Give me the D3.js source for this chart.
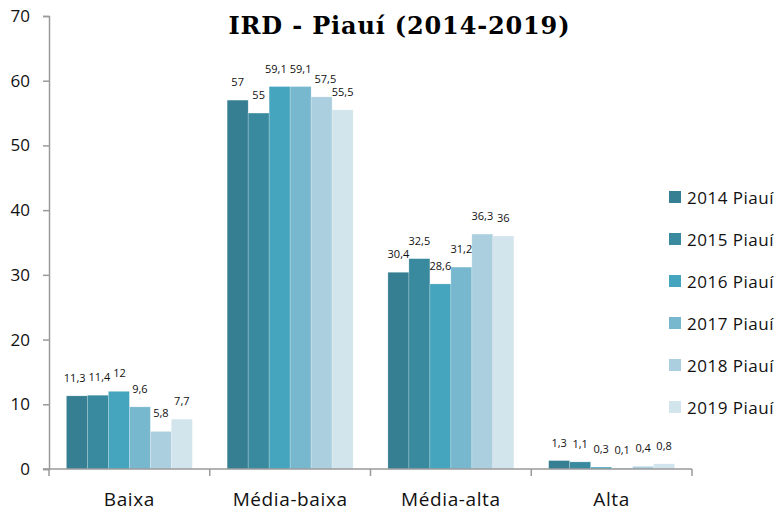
<!DOCTYPE html>
<html>
<head>
<meta charset="utf-8">
<script src="https://cdn.jsdelivr.net/npm/d3@7"></script>
<style>
  html, body { margin: 0; padding: 0; background: #fff; }
  svg { display: block; }
</style>
</head>
<body>
<svg id="chart" width="779" height="512"></svg>
<script>
// Intensity categories and yearly series for Piauí
const categories = ["Baixa", "Média-baixa", "Média-alta", "Alta"];
const years = ["2014 Piauí", "2015 Piauí", "2016 Piauí", "2017 Piauí", "2018 Piauí", "2019 Piauí"];
const values2014 = [11.3, 57, 30.4, 1.3];
const values2015 = [11.4, 55, 32.5, 1.1];
const values2016 = [12, 59.1, 28.6, 0.3];
const values2017 = [9.6, 59.1, 31.2, 0.1];
const values2018 = [5.8, 57.5, 36.3, 0.4];
const values2019 = [7.7, 55.5, 36, 0.8];
const yTicks = [0, 10, 20, 30, 40, 50, 60, 70];
const colors = ["#367e92", "#3a8a9f", "#46a5be", "#78b8cf", "#accfdf", "#d2e4ec"];

const series = [values2014, values2015, values2016, values2017, values2018, values2019];

const svg = d3.select("#chart");
const plotLeft = 49, plotRight = 692, plotTop = 16, plotBottom = 469;

const x0 = d3.scaleBand().domain(categories).range([plotLeft, plotRight]).paddingInner(0).paddingOuter(0);
const x1 = d3.scaleBand().domain(d3.range(years.length)).range([0, x0.bandwidth()]).paddingInner(0).paddingOuter(0.83);
const y = d3.scaleLinear().domain([0, 70]).range([plotBottom, plotTop]);

const fmt = v => String(v).replace(".", ",");
const axisColor = "#9a9a9a";
const font = "'Open Sans', 'Noto Sans', sans-serif";
const rowsFor = ci => series.map((s, si) => ({ si, v: s[ci] }));

// Bars
const groups = svg.append("g").selectAll("g")
  .data(categories)
  .join("g")
  .attr("transform", c => `translate(${x0(c)},0)`);

groups.selectAll("rect")
  .data(c => rowsFor(categories.indexOf(c)))
  .join("rect")
  .attr("x", d => x1(d.si))
  .attr("width", x1.bandwidth())
  .attr("y", d => y(d.v))
  .attr("height", d => y(0) - y(d.v))
  .attr("fill", d => colors[d.si])
  .attr("stroke", "#ffffff")
  .attr("stroke-opacity", 0.35)
  .attr("stroke-width", 0.6);

// Value labels
groups.each(function (c) {
  const labels = d3.select(this).selectAll("text")
    .data(rowsFor(categories.indexOf(c)))
    .join("text")
    .attr("y", d => y(d.v) - 14)
    .attr("text-anchor", "middle")
    .attr("font-family", font)
    .attr("font-size", 11)
    .attr("fill", "#111")
    .text(d => fmt(d.v));

  // Spread apart labels that collide with a neighbour at a similar height
  const items = [];
  labels.each(function (d) {
    items.push({ node: this, cx: x1(d.si) + x1.bandwidth() / 2, w: this.getComputedTextLength(), yy: y(d.v) - 14 });
  });
  for (let iter = 0; iter < 30; iter++) {
    for (let i = 1; i < items.length; i++) {
      const a = items[i - 1], b = items[i];
      if (Math.abs(a.yy - b.yy) > 11) continue;
      const need = (a.w + b.w) / 2 + 3 - (b.cx - a.cx);
      if (need > 0) { a.cx -= need / 2; b.cx += need / 2; }
    }
  }
  items.forEach(it => d3.select(it.node).attr("x", it.cx));
});

// Y axis
const yAxis = svg.append("g")
  .attr("transform", `translate(${plotLeft},0)`)
  .call(d3.axisLeft(y).tickValues(yTicks).tickSize(6).tickPadding(13).tickFormat(d3.format("d")));
yAxis.select(".domain").attr("stroke", axisColor).attr("stroke-width", 1.5);
yAxis.selectAll(".tick line").attr("stroke", axisColor).attr("stroke-width", 1.5);
yAxis.selectAll(".tick text").attr("font-family", font).attr("font-size", 17).attr("fill", "#111");

// X axis with boundary ticks
const xAxis = svg.append("g").attr("transform", `translate(0,${plotBottom})`);
xAxis.append("line")
  .attr("x1", plotLeft - 6).attr("x2", plotRight)
  .attr("stroke", axisColor).attr("stroke-width", 1.5);
const bounds = categories.map(c => x0(c)).concat([x0(categories[categories.length - 1]) + x0.bandwidth()]);
xAxis.selectAll("line.bt")
  .data(bounds)
  .join("line")
  .attr("class", "bt")
  .attr("x1", d => d).attr("x2", d => d)
  .attr("y1", 0).attr("y2", 7)
  .attr("stroke", axisColor).attr("stroke-width", 1.5);
xAxis.selectAll("text")
  .data(categories)
  .join("text")
  .attr("x", c => x0(c) + x0.bandwidth() / 2)
  .attr("y", 37)
  .attr("text-anchor", "middle")
  .attr("font-family", font)
  .attr("font-size", 19)
  .attr("letter-spacing", 0.6)
  .attr("fill", "#111")
  .text(c => c);

// Title
svg.append("text")
  .attr("x", 399)
  .attr("y", 34)
  .attr("text-anchor", "middle")
  .attr("font-family", "'DejaVu Serif', serif")
  .attr("font-weight", "bold")
  .attr("font-size", 24)
  .attr("textLength", 341)
  .attr("lengthAdjust", "spacing")
  .attr("fill", "#000")
  .text("IRD - Piauí (2014-2019)");

// Legend
const legend = svg.append("g").attr("transform", "translate(669,191)");
const legendItems = legend.selectAll("g")
  .data(years)
  .join("g")
  .attr("transform", (d, i) => `translate(0,${i * 42})`);
legendItems.append("rect")
  .attr("width", 12).attr("height", 12)
  .attr("fill", (d, i) => colors[i]);
legendItems.append("text")
  .attr("x", 18)
  .attr("y", 13)
  .attr("font-family", font)
  .attr("font-size", 17)
  .attr("letter-spacing", 0.5)
  .attr("fill", "#111")
  .text(d => d);
</script>
</body>
</html>
